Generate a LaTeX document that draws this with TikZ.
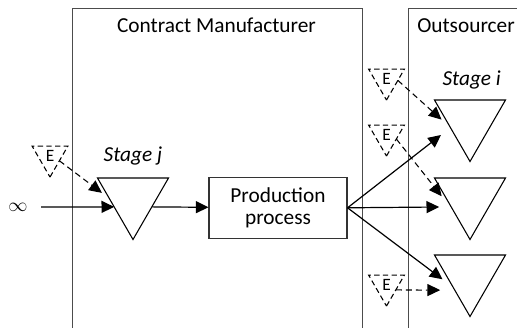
\documentclass[tikz,border=0pt]{standalone}
\usepackage{fontspec}
\setmainfont{Carlito}
\usetikzlibrary{shapes.geometric,arrows.meta}

\begin{document}
\begin{tikzpicture}[x=0.75pt,y=-0.75pt,>={Triangle[length=9.5pt,width=9pt]},
  every node/.style={font=\fontsize{16}{16.5}\selectfont}]

  \tikzstyle{stage}=[regular polygon,regular polygon sides=3,shape border rotate=180,draw,line width=0.8pt,minimum size=61.5pt,inner sep=0pt,outer sep=0pt]
  \tikzstyle{ext}=[stage,dash pattern=on 4pt off 2.5pt,minimum size=31pt,font=\fontsize{13}{13}\selectfont]
  \tikzstyle{frame}=[black!70,line width=0.75pt]
  \tikzstyle{flow}=[->,line width=0.9pt]
  \tikzstyle{feed}=[->,dash pattern=on 4.5pt off 3pt,line width=0.8pt]

  \clip (0,0) rectangle (517,328);

  % the two firms
  \draw[frame] (72,340) -- (72,9) -- (362,9) -- (362,340);
  \draw[frame] (408,340) -- (408,9) -- (530,9);
  \node[anchor=base] (cm) at (216.5,33) {Contract Manufacturer};
  \node[anchor=base] (out) at (466,33) {Outsourcer};

  % contract manufacturer side
  \node[font=\fontsize{13.5}{13.5}\selectfont,inner xsep=10pt] (inf) at (18,207) {$\infty$};
  \node[stage] (stj) at (133,198.5) {};
  \node[anchor=base] (stage j) at (133,161.5) {\textit{Stage j}};
  \node[ext] (ej) at (50,156.4) {E};
  \node[draw,black!80,text=black,line width=0.8pt,minimum width=103.5pt,minimum height=45.75pt,align=center,inner sep=0pt] (prod) at (278,207.8) {Production\\process};

  % outsourcer side
  \node[stage] (sti1) at (470,120.5) {};
  \node[stage] (sti2) at (470,198.5) {};
  \node[stage] (sti3) at (470,275.5) {};
  \node[anchor=base] (stage i) at (471.7,85) {\textit{Stage i}};
  \node[ext] (e1) at (386.5,79.4) {E};
  \node[ext] (e2) at (386.5,135.4) {E};
  \node[ext] (e3) at (386.5,285.4) {E};

  \draw[flow] (inf) -- (stj.204);
  \draw[feed,shorten >=7pt] (ej.-25) -- (stj.west);
  \draw[flow] (stj.-24) -- (prod);

  \draw[flow,shorten >=9pt] (prod.east) -- (sti1.200);
  \draw[flow,shorten >=9pt] (prod.east) -- (sti2.204);
  \draw[flow,shorten >=10pt] (prod.east) -- (sti3.215);

  \draw[feed,shorten >=9pt] (e1.-5) -- (sti1.200);
  \draw[feed,shorten >=15pt] (e2.-20) -- (sti2.220);
  \draw[feed,shorten >=11pt] (e3.-26) -- (sti3.224);

  %\draw[step=20,gray,very thin] (0,0) grid (517,328);

\end{tikzpicture}
\end{document}
